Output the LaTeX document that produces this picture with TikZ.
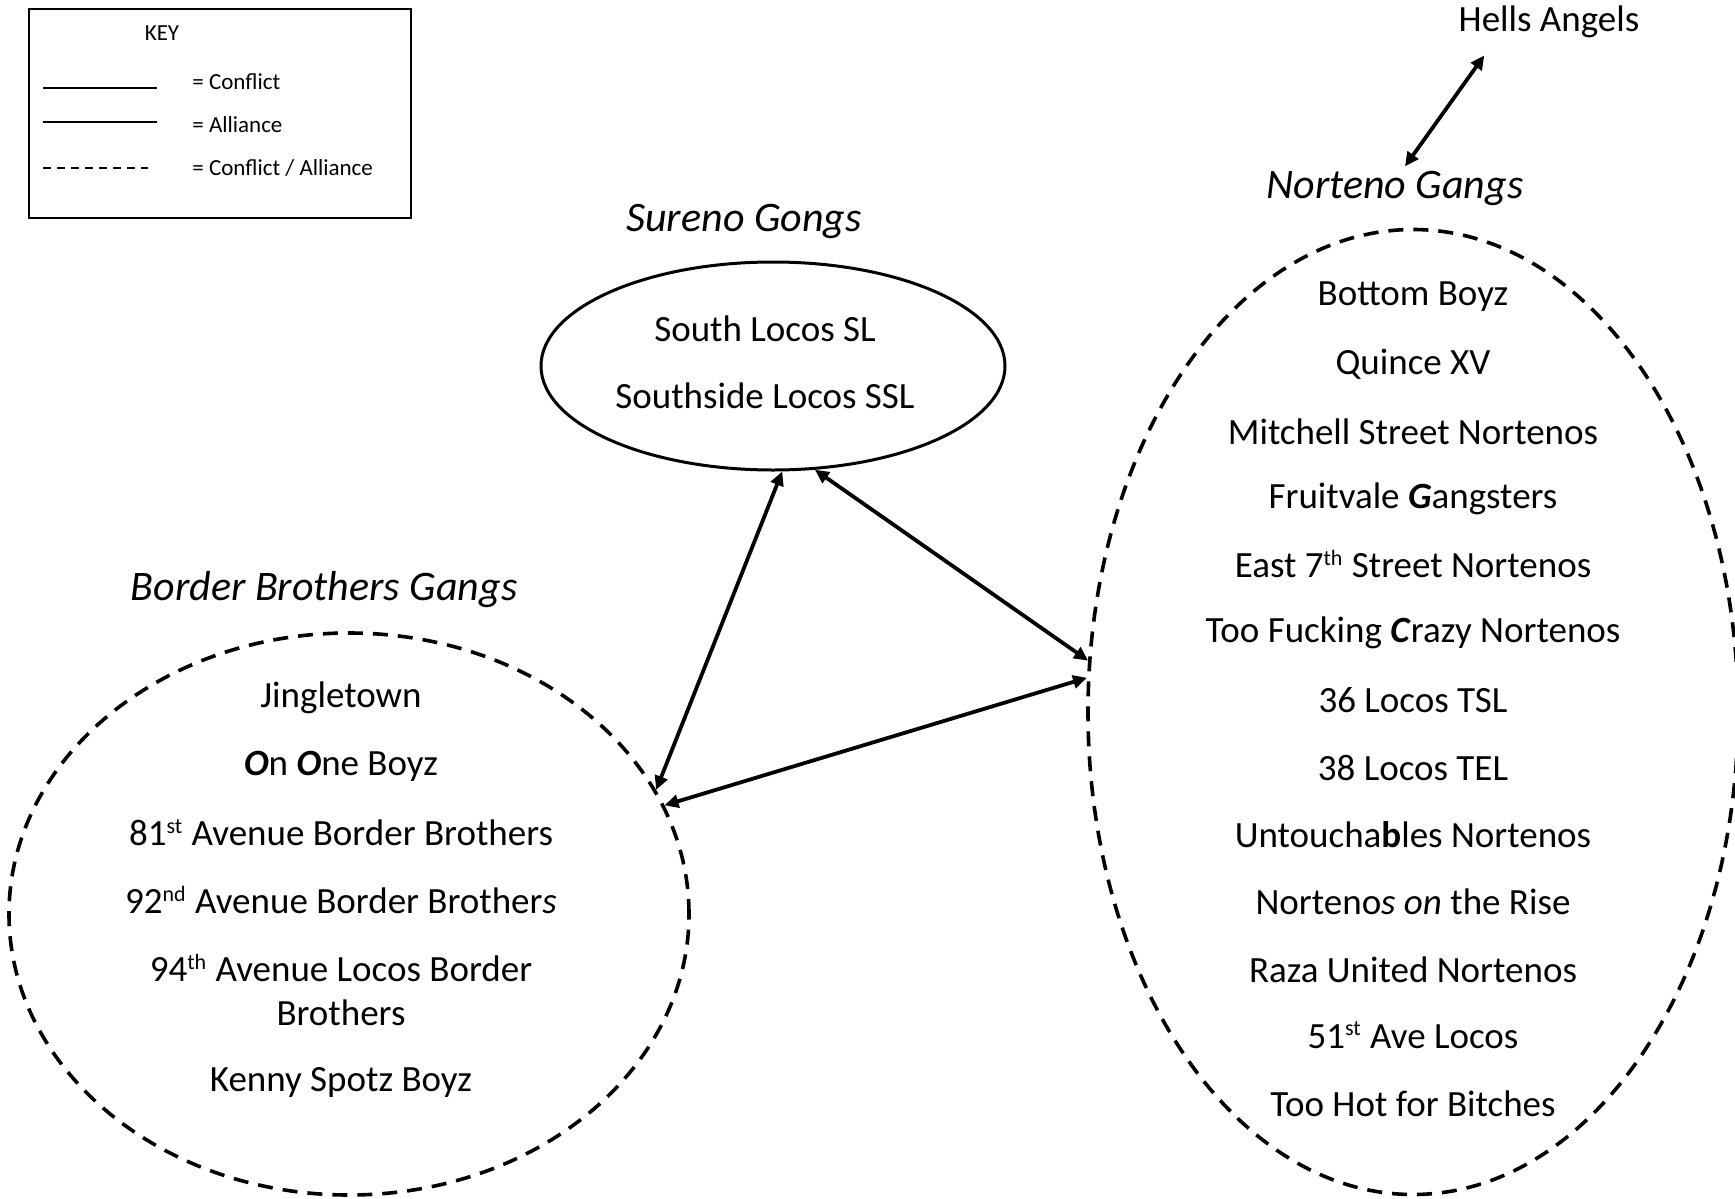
\documentclass[tikz,border=0pt]{standalone}
\usepackage{fontspec}
\setmainfont{Carlito}
\usetikzlibrary{shapes.geometric,calc,arrows.meta}

\newcommand\ordsup[1]{\smash{\textsuperscript{\fontsize{11}{11}\selectfont #1}}}

\begin{document}
\begin{tikzpicture}[
	x=0.5pt,
	y=-0.5pt,
	gangtext/.style={
		font=\fontsize{18.5}{22}\selectfont,
		align=center,
		inner sep=0
	},
	grouplabel/.style={
		font=\fontsize{21}{25}\selectfont\itshape,
		inner sep=0
	},
	keytext/.style={
		font=\fontsize{11.5}{14}\selectfont,
		inner sep=0,
		anchor=west
	},
	groupring/.style={
		ellipse,
		draw=black,
		line width=1.8pt,
		dash pattern=on 7.5pt off 5pt,
		inner sep=0
	},
	link/.style={
		{Triangle[length=7pt,width=6.5pt]}-{Triangle[length=7pt,width=6.5pt]},
		line width=1.9pt
	}
]

\useasboundingbox (0,0) rectangle (1735,1199);



% key
\node[draw, line width=0.8pt, anchor=north west, inner sep=0,
	minimum width=191pt, minimum height=104.5pt] (key) at (28,8) {};
\node[keytext, anchor=center] (keytitle) at ($(key.north west)+(134,25)$) {KEY};

\draw[line width=0.9pt] ($(key.north west)+(15,80)$) -- +(114,0);
\draw[line width=1.2pt] ($(key.north west)+(15,114)$) -- +(114,0);
\draw[line width=1pt, dash pattern=on 4pt off 3pt] ($(key.north west)+(15,160)$) -- +(105,0);

\node[keytext] (keyconflict) at ($(key.north west)+(164,74)$) {= Conflict};
\node[keytext] (keyalliance) at ($(key.north west)+(164,117)$) {= Alliance};
\node[keytext] (keyboth) at ($(key.north west)+(164,160)$) {= Conflict / Alliance};



% groups
\node[ellipse, draw=black, line width=1.5pt, inner sep=0,
	minimum width=232pt, minimum height=104pt] (sureno) at (773,366) {};
\node[groupring, minimum width=340pt, minimum height=281pt] (border) at (349,914) {};
\node[groupring, minimum width=325pt, minimum height=482.5pt] (norteno) at (1413,712) {};

\node[grouplabel] (surenolabel) at (744,221) {Sureno Gongs};
\node[grouplabel] (borderlabel) at (324,590) {Border Brothers Gangs};
\node[grouplabel] (nortenolabel) at (1395,188) {Norteno Gangs};
\node[gangtext] (hells) at (1549,22) {Hells Angels};



\def\surenogangs{
	South Locos SL,
	Southside Locos SSL%
}

\def\bordergangs{
	698/{Jingletown},
	766/{\textbf{\textit{O}}n \textbf{\textit{O}}ne Boyz},
	833/{81\ordsup{st} Avenue Border Brothers},
	901/{92\ordsup{nd} Avenue Border Brother\textit{s}},
	991/{94\ordsup{th} Avenue Locos Border\\Brothers},
	1082/{Kenny Spotz Boyz}%
}

\def\nortenogangs{
	{Bottom Boyz},
	{Quince XV},
	{Mitchell Street Nortenos},
	{Fruitvale \textbf{\textit{G}}angsters},
	{East 7\ordsup{th} Street Nortenos},
	{Too Fucking \textbf{\textit{C}}razy Nortenos},
	{36 Locos TSL},
	{38 Locos TEL},
	{Untoucha\textbf{b}les Nortenos},
	{Norteno\textit{s on} the Rise},
	{Raza United Nortenos},
	{51\ordsup{st} Ave Locos},
	{Too Hot for Bitches}%
}

\foreach \gang [count=\i] in \surenogangs {
	\node[gangtext] (s\i) at (765,262+\i*67) {\gang};
}

\foreach \y/\gang [count=\i] in \bordergangs {
	\node[gangtext] (b\i) at (341,\y) {\gang};
}

\foreach \gang [count=\i] in \nortenogangs {
	\node[gangtext] (n\i) at (1413,229.75+\i*67.25) {\gang};
}



% relations
\draw[link] (sureno.-85) -- (border.22);
\draw[link] (sureno.-68) -- (norteno.171.5);
\draw[link] (border.19) -- (norteno.174);
\draw[link] ($(hells.south west)+(26,17)$) -- ($(nortenolabel.north)+(10,-4)$);

\end{tikzpicture}
\end{document}
